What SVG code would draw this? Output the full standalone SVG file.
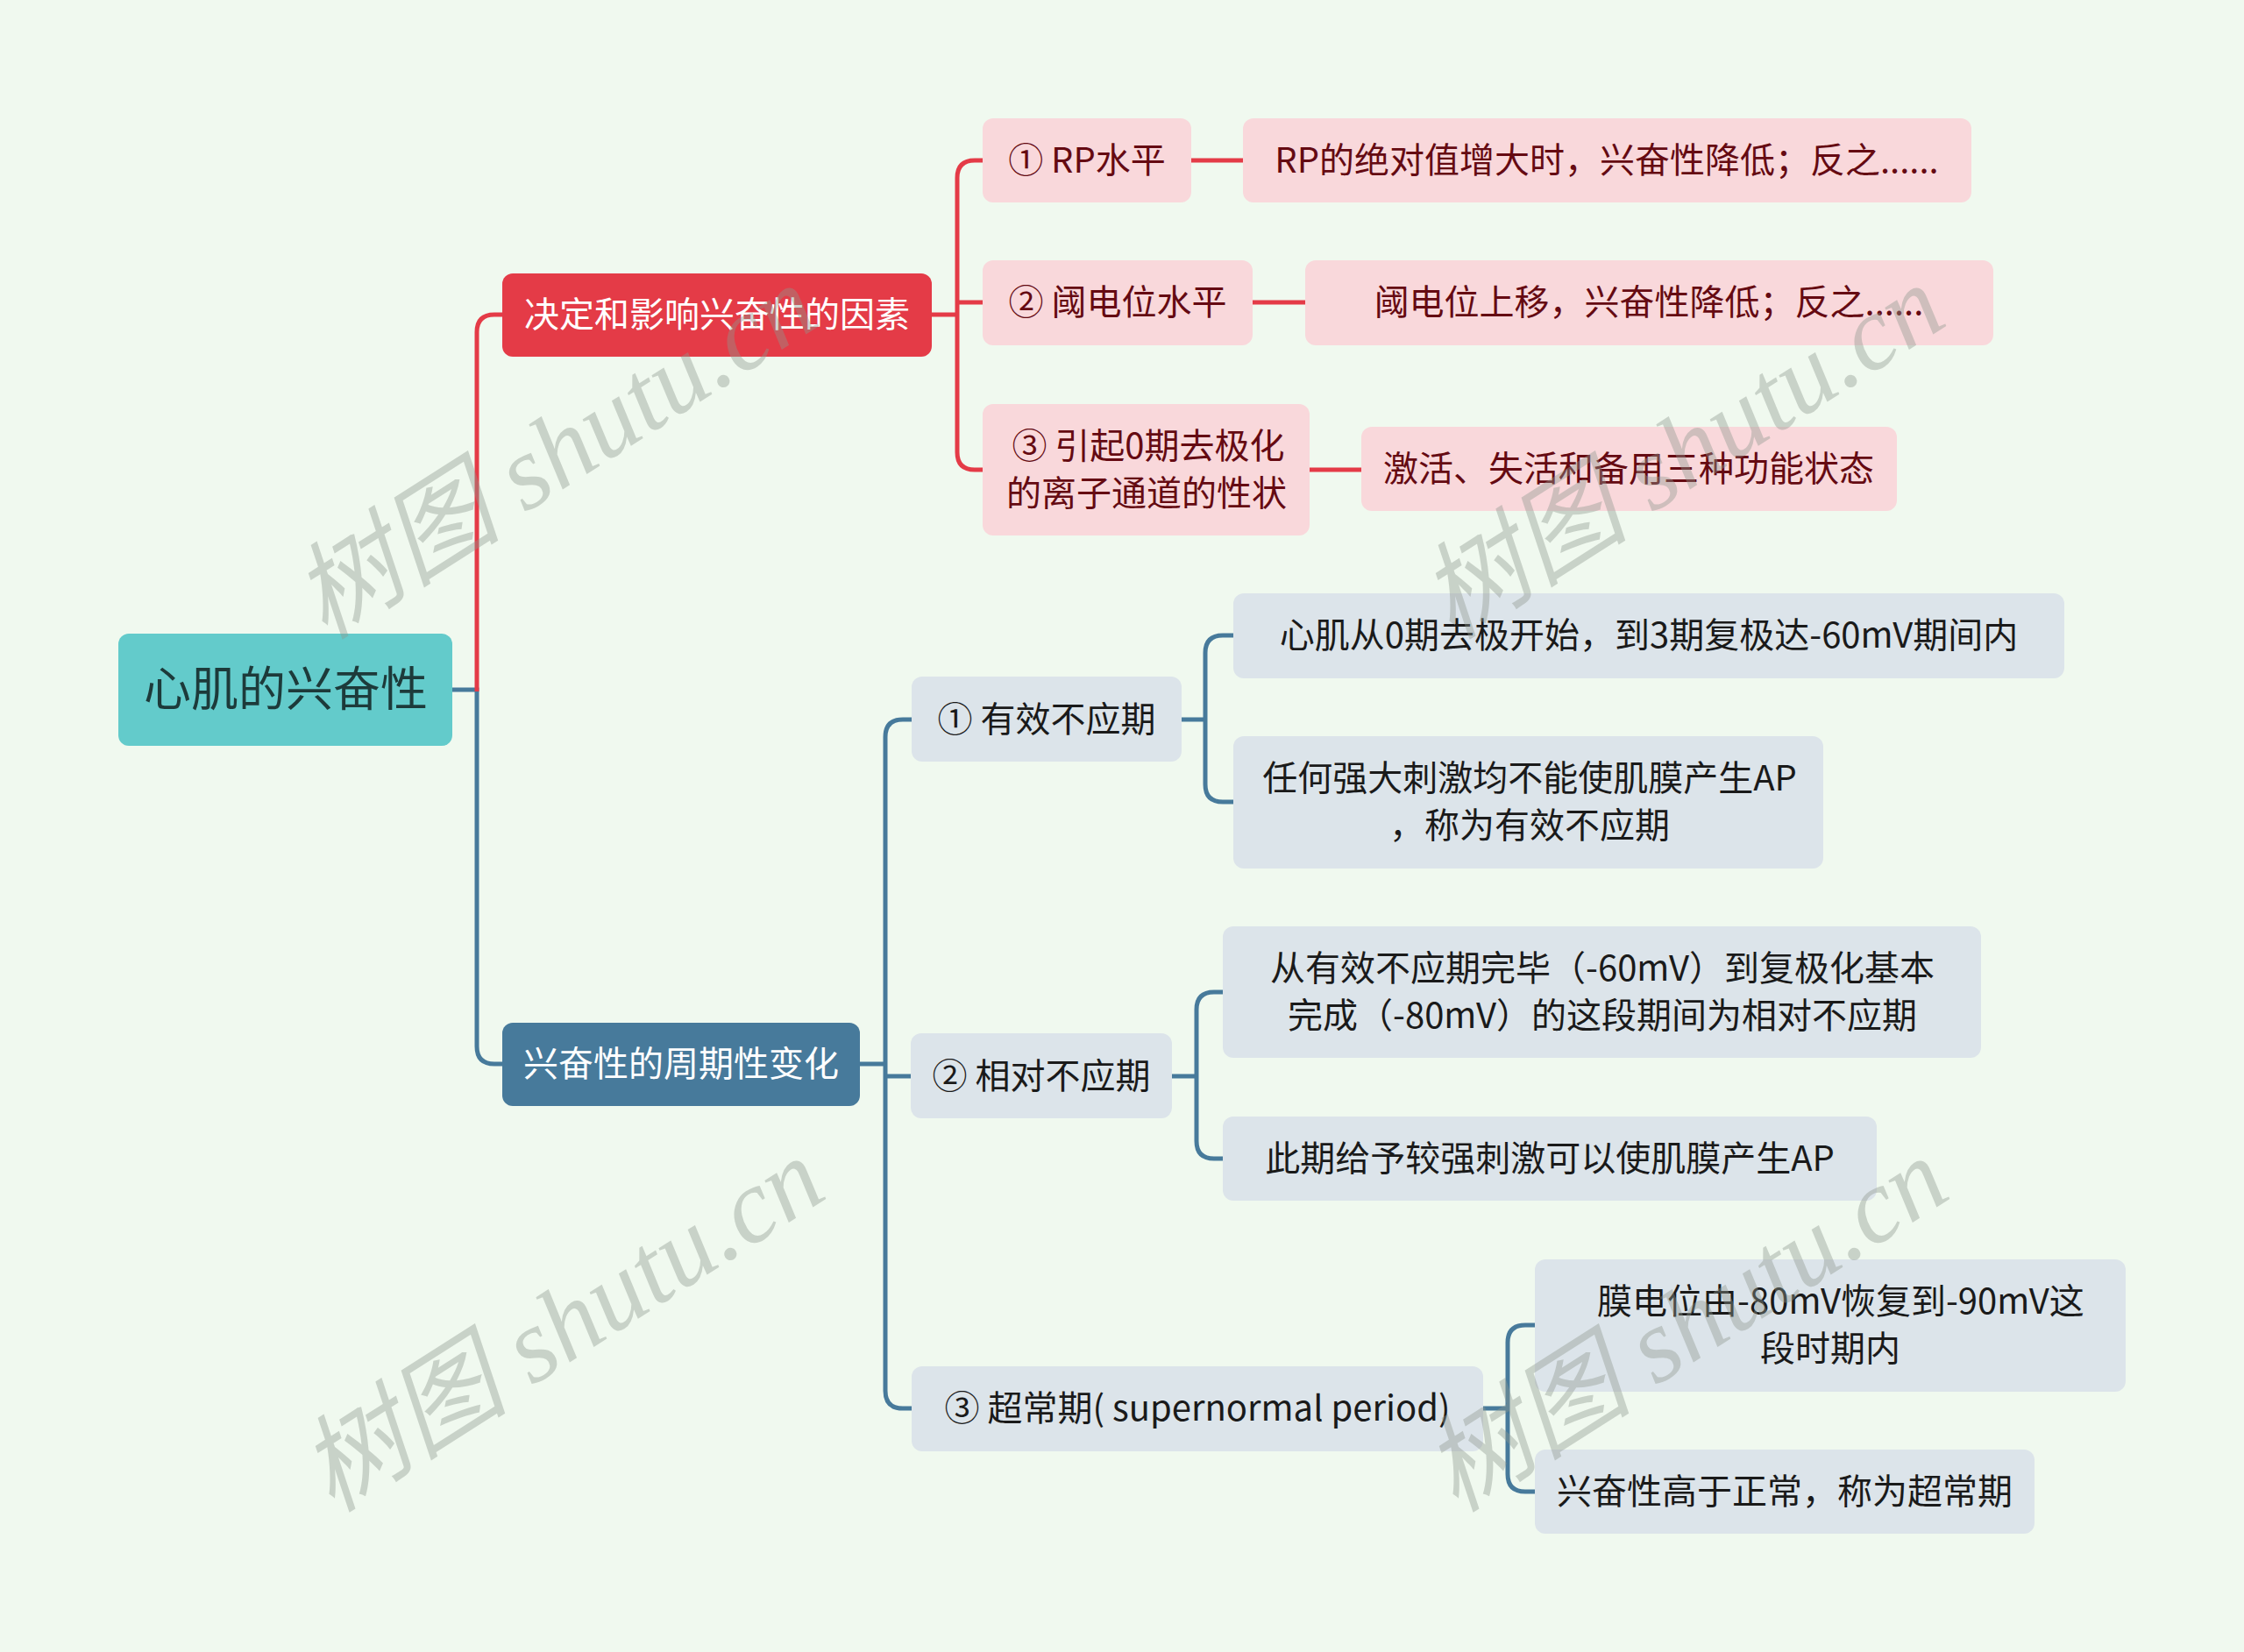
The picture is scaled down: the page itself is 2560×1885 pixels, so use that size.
<svg xmlns="http://www.w3.org/2000/svg" width="2560" height="1885" viewBox="0 0 2560 1885">
<defs>
<style>
.t{font-family:"Noto Sans CJK SC","Noto Sans",sans-serif;text-anchor:middle}
.f40{font-size:40px}
.rc{stroke:#E43B47;stroke-width:5;fill:none}
.bc{stroke:#477A9B;stroke-width:5;fill:none}
.pk{fill:#F9D8DB}
.lb{fill:#DCE4EA}
.rt{fill:#650A12}
.bt{fill:#1A1A1A}
.wm{font-family:"Liberation Serif","Noto Sans CJK SC",serif;font-style:italic;font-size:120px;fill:#8f998f;opacity:0.4;text-anchor:middle}
</style>
</defs>
<rect width="2560" height="1885" fill="#F0F9EF"/>
<g id="connectors">
<path class="bc" d="M516,787 H544 V1194 Q544,1214 564,1214 H575"/>
<path class="rc" d="M544,789 V379 Q544,359 564,359 H575"/>
<path class="rc" d="M1063,359 H1092"/>
<path class="rc" d="M1123,183 H1112 Q1092,183 1092,203 V516 Q1092,536 1112,536 H1123"/>
<path class="rc" d="M1092,345 H1123"/>
<path class="rc" d="M1359,183 H1420"/>
<path class="rc" d="M1429,345 H1491"/>
<path class="rc" d="M1494,536 H1555"/>
<path class="bc" d="M981,1214 H1010"/>
<path class="bc" d="M1042,821 H1030 Q1010,821 1010,841 V1587 Q1010,1607 1030,1607 H1042"/>
<path class="bc" d="M1010,1228 H1041"/>
<path class="bc" d="M1348,821 H1375"/>
<path class="bc" d="M1409,725 H1395 Q1375,725 1375,745 V895 Q1375,915 1395,915 H1409"/>
<path class="bc" d="M1337,1228 H1365"/>
<path class="bc" d="M1397,1132 H1385 Q1365,1132 1365,1152 V1302 Q1365,1322 1385,1322 H1397"/>
<path class="bc" d="M1692,1607 H1720"/>
<path class="bc" d="M1753,1512 H1740 Q1720,1512 1720,1532 V1682 Q1720,1702 1740,1702 H1753"/>
</g>
<g id="root">
<rect x="135" y="723" width="381" height="128" rx="12" fill="#63CBCB"/>
<text class="t" x="326" y="806" font-size="54" fill="#1D3A3A">心肌的兴奋性</text>
</g>
<g id="b1">
<rect x="573" y="312" width="490" height="95" rx="12" fill="#E43B47"/>
<text class="t f40" x="818" y="373" fill="#FFFFFF">决定和影响兴奋性的因素</text>
</g>
<g id="b2">
<rect x="573" y="1167" width="408" height="95" rx="12" fill="#477A9B"/>
<text class="t f40" x="777" y="1228" fill="#FFFFFF">兴奋性的周期性变化</text>
</g>
<g id="r1">
<rect class="pk" x="1121" y="135" width="238" height="96" rx="12"/>
<text class="t f40 rt" x="1240" y="197">① RP水平</text>
</g>
<g id="r1a">
<rect class="pk" x="1418" y="135" width="831" height="96" rx="12"/>
<text class="t f40 rt" x="1833" y="197">RP的绝对值增大时，兴奋性降低；反之......</text>
</g>
<g id="r2">
<rect class="pk" x="1121" y="297" width="308" height="97" rx="12"/>
<text class="t f40 rt" x="1275" y="359">② 阈电位水平</text>
</g>
<g id="r2a">
<rect class="pk" x="1489" y="297" width="785" height="97" rx="12"/>
<text class="t f40 rt" x="1881" y="359">阈电位上移，兴奋性降低；反之......</text>
</g>
<g id="r3">
<rect class="pk" x="1121" y="461" width="373" height="150" rx="12"/>
<text class="t f40 rt" x="1310" y="523">③ 引起0期去极化</text>
<text class="t f40 rt" x="1308" y="577">的离子通道的性状</text>
</g>
<g id="r3a">
<rect class="pk" x="1553" y="487" width="611" height="96" rx="12"/>
<text class="t f40 rt" x="1858" y="549">激活、失活和备用三种功能状态</text>
</g>
<g id="p1">
<rect class="lb" x="1040" y="772" width="308" height="97" rx="12"/>
<text class="t f40 bt" x="1194" y="835">① 有效不应期</text>
</g>
<g id="p1a">
<rect class="lb" x="1407" y="677" width="948" height="97" rx="12"/>
<text class="t f40 bt" x="1881" y="739">心肌从0期去极开始，到3期复极达-60mV期间内</text>
</g>
<g id="p1b">
<rect class="lb" x="1407" y="840" width="673" height="151" rx="12"/>
<text class="t f40 bt" x="1745" y="902">任何强大刺激均不能使肌膜产生AP</text>
<text class="t f40 bt" x="1745" y="956">，称为有效不应期</text>
</g>
<g id="p2">
<rect class="lb" x="1039" y="1179" width="298" height="97" rx="12"/>
<text class="t f40 bt" x="1188" y="1242">② 相对不应期</text>
</g>
<g id="p2a">
<rect class="lb" x="1395" y="1057" width="865" height="150" rx="12"/>
<text class="t f40 bt" x="1828" y="1119">从有效不应期完毕（-60mV）到复极化基本</text>
<text class="t f40 bt" x="1828" y="1173">完成（-80mV）的这段期间为相对不应期</text>
</g>
<g id="p2b">
<rect class="lb" x="1395" y="1274" width="746" height="96" rx="12"/>
<text class="t f40 bt" x="1768" y="1336">此期给予较强刺激可以使肌膜产生AP</text>
</g>
<g id="p3">
<rect class="lb" x="1040" y="1559" width="652" height="97" rx="12"/>
<text class="t f40 bt" x="1366" y="1621">③ 超常期( supernormal period)</text>
</g>
<g id="p3a">
<rect class="lb" x="1751" y="1437" width="674" height="151" rx="12"/>
<text class="t f40 bt" x="2100" y="1499">膜电位由-80mV恢复到-90mV这</text>
<text class="t f40 bt" x="2088" y="1553">段时期内</text>
</g>
<g id="p3b">
<rect class="lb" x="1751" y="1654" width="570" height="96" rx="12"/>
<text class="t f40 bt" x="2036" y="1716">兴奋性高于正常，称为超常期</text>
</g>
<g id="watermarks">
<text class="wm" transform="translate(655,550) rotate(-32.5)">树图 shutu.cn</text>
<text class="wm" transform="translate(1941,550) rotate(-32.5)">树图 shutu.cn</text>
<text class="wm" transform="translate(663,1546) rotate(-32.5)">树图 shutu.cn</text>
<text class="wm" transform="translate(1945,1546) rotate(-32.5)">树图 shutu.cn</text>
</g>
</svg>
